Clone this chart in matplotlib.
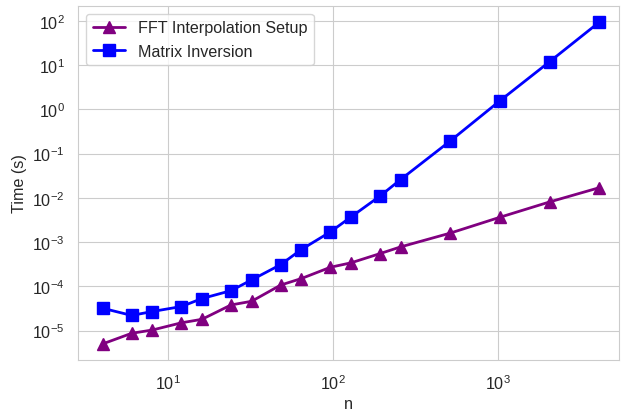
import matplotlib
matplotlib.use("Agg")
import matplotlib.pyplot as plt
import seaborn as sns

n = [4, 6, 8, 12, 16, 24, 32, 48, 64, 96, 128, 192, 256, 512, 1024, 2048, 4096]
fft_setup = [5.0e-6, 8.7e-6, 1.03e-5, 1.5e-5, 1.8e-5, 3.8e-5, 4.6e-5, 1.07e-4, 1.5e-4,
             2.7e-4, 3.4e-4, 5.5e-4, 7.8e-4, 1.6e-3, 3.65e-3, 8.1e-3, 1.7e-2]
mat_inv = [3.2e-5, 2.2e-5, 2.7e-5, 3.5e-5, 5.3e-5, 8.0e-5, 1.4e-4, 3.1e-4, 6.8e-4,
           1.7e-3, 3.7e-3, 1.1e-2, 2.6e-2, 0.194, 1.57, 12.0, 94.0]

sns.set_style("whitegrid")
plt.rcParams['font.family'] = ['Liberation Sans', 'DejaVu Sans']
plt.rcParams['mathtext.fontset'] = 'custom'
plt.rcParams['mathtext.rm'] = 'Liberation Sans'
plt.rcParams['mathtext.it'] = 'Liberation Sans:italic'

fig = plt.figure(figsize=(6.21, 4.14), dpi=100)
ax = fig.add_axes([78 / 621, 1 - 361 / 414, (619 - 78) / 621, (361 - 7) / 414])

ax.plot(n, fft_setup, marker='^', color='purple', lw=2, ms=8.5, label='FFT Interpolation Setup')
ax.plot(n, mat_inv, marker='s', color='blue', lw=2, ms=8.5, label='Matrix Inversion')
ax.set_xscale('log')
ax.set_yscale('log')
ax.set_xlim(10 ** 0.4527, 10 ** 3.7315)
ax.set_xlabel('n', fontsize=11.6, labelpad=3)
ax.set_ylabel('Time (s)', fontsize=11.6)
ax.tick_params(labelsize=11.6, pad=6)
ax.legend(loc='upper left', fontsize=11.6)

fig.savefig('out.png', dpi=100)
